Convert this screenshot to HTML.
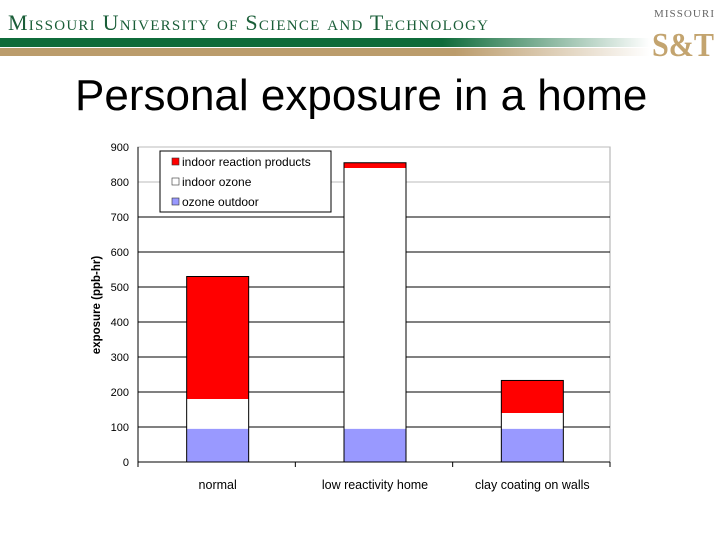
<!DOCTYPE html>
<html><head><meta charset="utf-8"><style>
body{margin:0;width:720px;height:540px;background:#fff;overflow:hidden;font-family:"Liberation Sans",sans-serif}
</style></head><body>
<svg width="720" height="540" xmlns="http://www.w3.org/2000/svg">
<defs>
<linearGradient id="g1" x1="0" x2="1"><stop offset="0" stop-color="#0f6b3a"/><stop offset="0.68" stop-color="#0f6b3a"/><stop offset="1" stop-color="#0f6b3a" stop-opacity="0"/></linearGradient>
<linearGradient id="g2" x1="0" x2="1"><stop offset="0" stop-color="#bb9c6c"/><stop offset="0.7" stop-color="#bb9c6c"/><stop offset="1" stop-color="#bb9c6c" stop-opacity="0"/></linearGradient>
</defs>
<g>
<text x="8" y="30" font-family="Liberation Serif,serif" font-size="22" fill="#1a5e38" style="font-variant:small-caps" textLength="480">Missouri University of Science and Technology</text>
<rect x="0" y="38" width="650" height="9" fill="url(#g1)"/>
<rect x="0" y="48" width="650" height="8" fill="url(#g2)"/>
<text x="654" y="17" font-family="Liberation Serif,serif" font-size="11" fill="#666" textLength="60">MISSOURI</text>
<text x="652" y="56" font-family="Liberation Serif,serif" font-size="34" font-weight="bold" fill="#c3a46f" textLength="62" lengthAdjust="spacingAndGlyphs">S&amp;T</text>
</g>
<text x="75" y="110" font-size="44" fill="#000">Personal exposure in a home</text>
<g id="chart"></g>
</svg>
<script>
const categories=["normal","low reactivity home","clay coating on walls"];
const outdoor=[95,95,95];
const indoorOzone=[85,745,45];
const reaction=[350,15,93];
const yTicks=[0,100,200,300,400,500,600,700,800,900];
const NS="http://www.w3.org/2000/svg";
const g=document.getElementById('chart');
const x0=138,x1=610,yb=462,yt=147,ymax=900;
const y=v=>yb-(v/ymax)*(yb-yt);
const bw=(x1-x0)/categories.length;
function el(t,a,p){const e=document.createElementNS(NS,t);for(const k in a)e.setAttribute(k,a[k]);(p||g).appendChild(e);return e;}
const frame=el('rect',{x:x0,y:yt,width:x1-x0,height:yb-yt,fill:'none',stroke:'#aaa'});


yTicks.forEach(v=>{
  if(v>0){const l=el('line',{x1:x0,x2:x1,y1:y(v),y2:y(v),stroke:v>=800?'#bbb':'#000','stroke-width':1});
  
  }
  const t=el('text',{x:x0-9,y:y(v)+4,'text-anchor':'end','font-size':11,fill:'#000'});t.textContent=v;
  
  
});
const ax=el('line',{x1:x0,x2:x0,y1:yt,y2:yb+3,stroke:'#000'});


const xa=el('line',{x1:x0,x2:x1,y1:yb,y2:yb,stroke:'#000'});


for(let i=0;i<=categories.length;i++){const tk=el('line',{x1:x0+i*bw,x2:x0+i*bw,y1:yb,y2:yb+5,stroke:'#000'});

}
const series=[[outdoor,'#9999ff','outdoor'],[indoorOzone,'#ffffff','indoor-ozone'],[reaction,'#ff0000','reaction']];
categories.forEach((c,i)=>{
  const cx=x0+bw*(i+0.5)+1;let base=0;
  series.forEach(([arr,col,nm])=>{
    const r=el('rect',{x:cx-31,y:y(base+arr[i]),width:62,height:y(base)-y(base+arr[i]),fill:col,stroke:'none'});
    
    
    base+=arr[i];
  });
  const o=el('rect',{x:cx-31,y:y(base),width:62,height:y(0)-y(base),fill:'none',stroke:'#000','stroke-width':1});
  
  
  const t=el('text',{x:cx,y:489,'text-anchor':'middle','font-size':12.5,fill:'#000'});t.textContent=c;
  
  
});
const yl=el('text',{transform:'translate(100,305) rotate(-90)','text-anchor':'middle','font-size':11.5,'font-weight':'bold',fill:'#000'});
yl.textContent='exposure (ppb-hr)';


const lg=el('g',{});


el('rect',{x:160,y:151,width:171,height:61,fill:'#fff',stroke:'#000'},lg);
[['indoor reaction products','#ff0000'],['indoor ozone','#ffffff'],['ozone outdoor','#9999ff']].forEach(([n,c],k)=>{
  const e=el('g',{},lg);
  
  
  el('rect',{x:172,y:158+k*20,width:7,height:7,fill:c,stroke:'#333','stroke-width':0.6},e);
  const t=el('text',{x:182,y:166+k*20,'font-size':12,fill:'#000'},e);t.textContent=n;
});
</script>
</body></html>
